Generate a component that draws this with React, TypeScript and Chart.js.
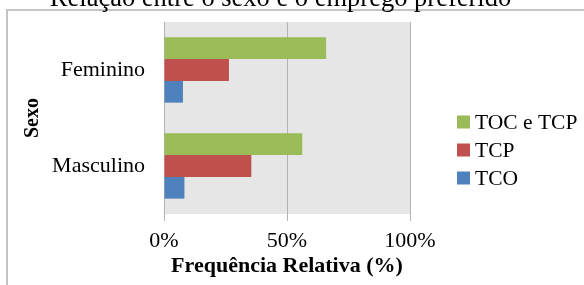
import React, { useEffect, useRef } from "react";
import { Chart, registerables } from "chart.js";

Chart.register(...registerables);

const categories = ["Feminino", "Masculino"];
const seriesNames = ["TOC e TCP", "TCP", "TCO"];
const tocETcp = [65.9, 56.2];
const tcp = [26.4, 35.5];
const tco = [7.7, 8.3];
const xTicks = [0, 50, 100];
const titleText = "Relação entre o sexo e o emprego preferido";
const xTitle = "Frequência Relativa (%)";
const yTitle = "Sexo";

const colors = ["#9BBB59", "#C0504D", "#4F81BD"];
const SERIF = "'Liberation Serif', 'Times New Roman', serif";

const decorPlugin = {
  id: "decor",
  beforeDraw(chart: any) {
    const { ctx, chartArea, width, height } = chart;
    ctx.save();
    ctx.fillStyle = "#ffffff";
    ctx.fillRect(0, 0, width, height);
    ctx.fillStyle = "#c4c4c4";
    ctx.fillRect(6, 9, width - 6, 2);
    ctx.fillRect(6, 9, 2, height - 9);
    ctx.fillStyle = "#e6e6e6";
    ctx.fillRect(chartArea.left, chartArea.top, chartArea.right - chartArea.left, chartArea.bottom - chartArea.top);
    ctx.restore();
  },
  afterDraw(chart: any) {
    const { ctx } = chart;
    ctx.save();
    ctx.fillStyle = "#000";
    ctx.font = `26.5px ${SERIF}`;
    ctx.textAlign = "center";
    ctx.textBaseline = "alphabetic";
    ctx.fillText(titleText, 280.5, 6);
    // legend built from datasets
    ctx.font = `21.5px ${SERIF}`;
    ctx.textAlign = "left";
    ctx.textBaseline = "middle";
    chart.data.datasets.forEach((ds: any, i: number) => {
      const y = 122 + i * 28;
      ctx.fillStyle = ds.backgroundColor;
      ctx.fillRect(457, y - 6.5, 13, 13);
      ctx.fillStyle = "#000";
      ctx.fillText(ds.label, 475, y + 1);
    });
    ctx.restore();
  },
};

export default function App() {
  const ref = useRef<HTMLCanvasElement>(null);
  useEffect(() => {
    if (!ref.current) return;
    const values = [tocETcp, tcp, tco];
    const chart = new Chart(ref.current, {
      type: "bar",
      data: {
        labels: categories,
        datasets: seriesNames.map((name, i) => ({
          label: name,
          data: values[i],
          backgroundColor: colors[i],
          borderWidth: 0,
          barPercentage: 1,
          categoryPercentage: 0.68,
        })),
      },
      options: {
        indexAxis: "y",
        animation: false,
        responsive: false,
        devicePixelRatio: 1,
        layout: { padding: { top: 22, right: 174, bottom: 0, left: 0 } },
        plugins: {
          legend: { display: false },
          title: { display: false },
          tooltip: { enabled: false },
        },
        scales: {
          x: {
            min: 0,
            max: 100,
            afterBuildTicks: (s: any) => {
              s.ticks = xTicks.map((v) => ({ value: v }));
            },
            ticks: {
              callback: (v: any) => v + "%",
              font: { family: SERIF, size: 22 },
              color: "#000",
              padding: 7,
              maxRotation: 0,
            },
            grid: { color: "#b3b3b3", tickLength: 7, drawTicks: true, lineWidth: 1 },
            border: { display: false },
            title: {
              display: true,
              text: xTitle,
              font: { family: SERIF, size: 22, weight: "bold" },
              color: "#000",
              padding: { top: 0, bottom: 5 },
            },
            afterFit: (s: any) => {
              s.height = 71;
              s.paddingLeft = 0;
              s.paddingRight = 0;
            },
          },
          y: {
            grid: { display: false, drawTicks: false },
            border: { display: false },
            ticks: {
              font: { family: SERIF, size: 22 },
              color: "#000",
              padding: 19,
            },
            title: {
              display: true,
              text: yTitle,
              font: { family: SERIF, size: 20, weight: "bold" },
              color: "#000",
              padding: { top: 21, bottom: 0 },
            },
            afterFit: (s: any) => {
              s.width = 164;
              s.paddingTop = 0;
              s.paddingBottom = 0;
            },
          },
        },
      },
      plugins: [decorPlugin],
    } as any);
    return () => chart.destroy();
  }, []);
  return (
    <div style={{ position: "absolute", left: 0, top: 0, width: 584, height: 285 }}>
      <canvas ref={ref} width={584} height={285} style={{ display: "block" }} />
    </div>
  );
}
